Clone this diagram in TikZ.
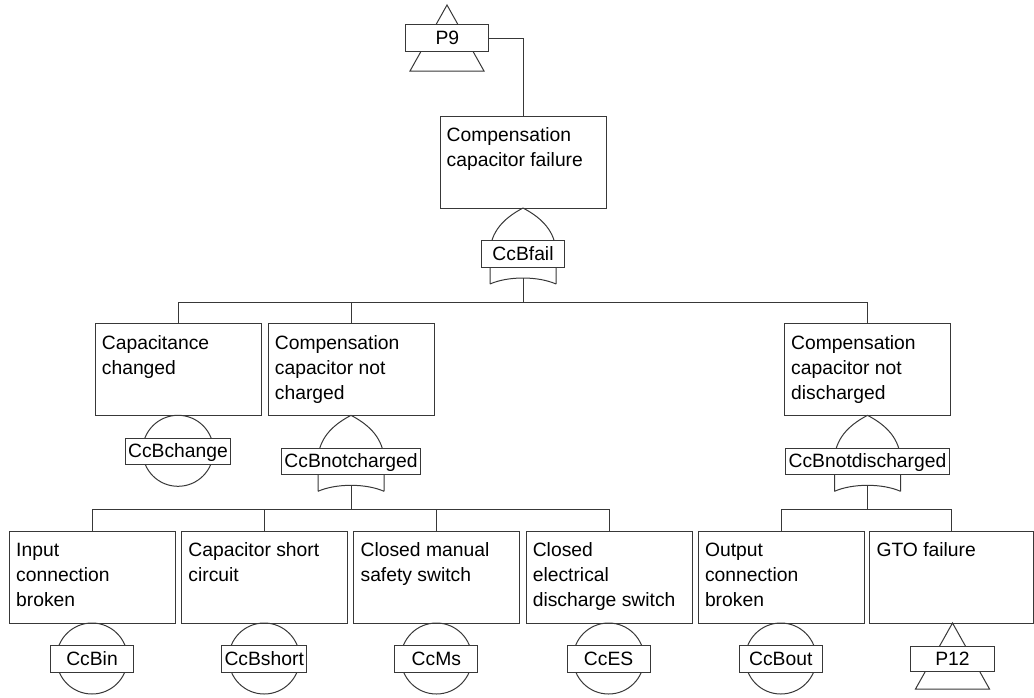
\documentclass[tikz,border=0pt]{standalone}
\usepackage{fontspec}
\setmainfont{Liberation Sans}
\newcommand\ftxt{\fontsize{19.3}{25}\selectfont}
\colorlet{lc}{black!78}
\tikzset{
  wire/.style={draw=lc, line width=1pt},
  evbox/.style={draw=lc, line width=1pt, fill=white, minimum width=166pt,
    minimum height=92pt, anchor=north west, inner sep=0pt},
  evtext/.style={anchor=north west, inner sep=0pt, align=left, font=\ftxt},
  lbl/.style={draw=lc, line width=1pt, fill=white, minimum width=83pt,
    inner xsep=3pt, inner ysep=4.5pt, text height=15pt, text depth=2.5pt,
    font=\ftxt},
  % OR gate, origin at its apex (y grows downwards)
  orgate/.pic={
    \draw[wire] (0,0) .. controls (-15,8) and (-31,20) .. (-33,42) -- (-33,76)
                (0,0) .. controls (15,8) and (31,20) .. (33,42) -- (33,76)
                (-33,76) .. controls (-15,68) and (15,68) .. (33,76);
    \coordinate (-out) at (0,70);
    \node[lbl] (-lbl) at (0,46) {#1\hspace{5pt}};
  },
  % basic event circle, origin at its top point
  basicev/.pic={
    \draw[wire] (0,35.5) circle[radius=35.5pt];
    \node[lbl] (-lbl) at (0,36) {#1\hspace{5pt}};
  },
}
\begin{document}
\begin{tikzpicture}[x=1pt,y=-1pt]
\useasboundingbox (0,0) rectangle (1034,697);

% transfer symbol P9
\draw[wire] (447,5) -- (410,71) -- (484,71) -- cycle;
\node[lbl, minimum width=83pt, text height=15pt, text depth=2.5pt, inner ysep=5pt] (p9) at (447.3,38) {P9};

% top event
\node[evbox] (top) at (439.5,116) {};
\node[evtext] (topt) at (446.5,124.2) {\strut Compensation\\capacitor failure};
\draw[wire] (p9.east) -| (top.north);

\pic (g1) at (523,208) {orgate=CcBfail};

% second level
\node[evbox] (l2a) at (95,323.3) {};
\node[evtext] (l2at) at (101.7,331.5) {\strut Capacitance\\changed};
\node[evbox] (l2b) at (268,323.3) {};
\node[evtext] (l2bt) at (274.7,331.5) {\strut Compensation\\capacitor not\\charged};
\node[evbox] (l2c) at (784.3,323.3) {};
\node[evtext] (l2ct) at (791,331.5) {\strut Compensation\\capacitor not\\discharged};

\coordinate (j1) at (523,302.3);
\draw[wire] (g1-out) -- (j1);
\draw[wire] (l2a.north) |- (j1);
\draw[wire] (l2b.north) -- (l2b.north |- j1);
\draw[wire] (l2c.north) |- (j1);

\pic (e0) at (178,415.3) {basicev=CcBchange};
\pic (g2) at (351,415.3) {orgate=CcBnotcharged};
\pic (g3) at (867.5,415.3) {orgate=CcBnotdischarged};

% third level
\node[evbox] (l3a) at (9,531) {};
\node[evtext] (l3at) at (16,539.2) {\strut Input\\connection\\broken};
\node[evbox] (l3b) at (181.2,531) {};
\node[evtext] (l3bt) at (188.2,539.2) {\strut Capacitor short\\circuit};
\node[evbox] (l3c) at (353.4,531) {};
\node[evtext] (l3ct) at (360.4,539.2) {\strut Closed manual\\safety switch};
\node[evbox] (l3d) at (525.6,531) {};
\node[evtext] (l3dt) at (532.6,539.2) {\strut Closed\\electrical\\discharge switch};
\node[evbox] (l3e) at (697.8,531) {};
\node[evtext] (l3et) at (704.8,539.2) {\strut Output\\connection\\broken};
\node[evbox, minimum width=164pt] (l3f) at (869.3,531) {};
\node[evtext] (l3ft) at (876.3,539.2) {\strut GTO failure};

\coordinate (j2) at (351,509);
\draw[wire] (g2-out) -- (j2);
\draw[wire] (l3a.north) |- (j2);
\draw[wire] (l3b.north) |- (j2);
\draw[wire] (l3c.north) |- (j2);
\draw[wire] (l3d.north) |- (j2);

\coordinate (j3) at (867.5,509);
\draw[wire] (g3-out) -- (j3);
\draw[wire] (l3e.north) |- (j3);
\draw[wire] (l3f.north) |- (j3);

\pic (e1) at (92,623) {basicev=CcBin};
\pic (e2) at (264.2,623) {basicev=CcBshort};
\pic (e3) at (436.4,623) {basicev=CcMs};
\pic (e4) at (608.6,623) {basicev=CcES};
\pic (e5) at (780.8,623) {basicev=CcBout};

% transfer symbol P12
\draw[wire] (952.5,623) -- (915.5,689) -- (989.5,689) -- cycle;
\node[lbl, minimum width=84pt, inner ysep=3.75pt] (p12) at (952.5,659.2) {P12};

\end{tikzpicture}
\end{document}
